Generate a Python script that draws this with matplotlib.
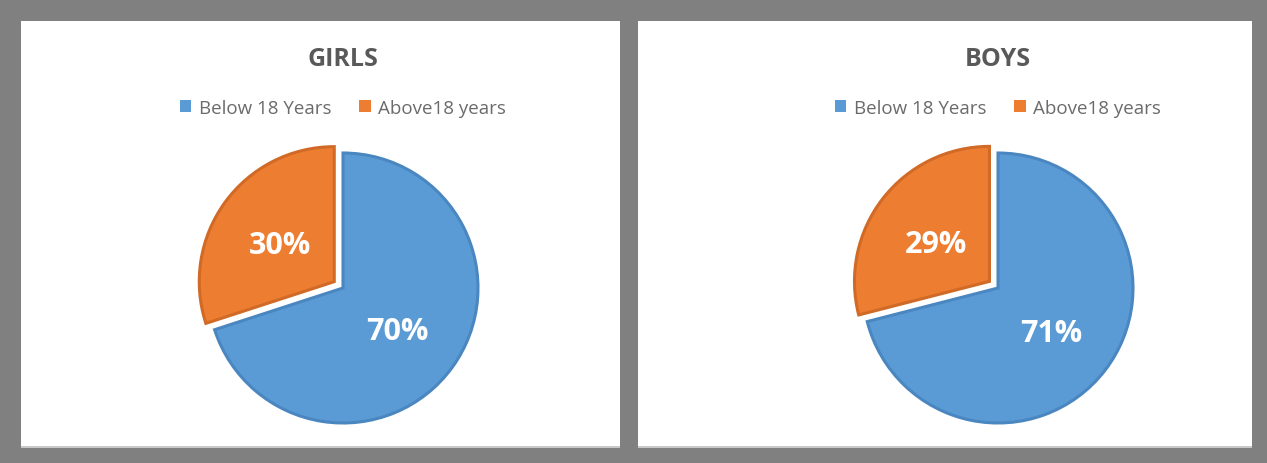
import matplotlib
matplotlib.use('Agg')  # без дисплея
import matplotlib.pyplot as plt
from matplotlib.patches import Rectangle, Patch

# Данные
groups = ["GIRLS", "BOYS"]
categories = ["Below 18 Years", "Above18 years"]
girls_share = [70, 30]
boys_share = [71, 29]
shares = [girls_share, boys_share]

# Оформление
colors = ['#5B9BD5', '#ED7D31']
edge_colors = ['#4A86C0', '#D06A26']
text_color = '#595959'
font = 'Open Sans'

W, H = 1267, 464
fig = plt.figure(figsize=(W / 100, H / 100), dpi=100, facecolor='#808080')

panels = [(21, 620), (638, 1252)]   # левая/правая граница белых панелей (px)
centers = [343, 998]                # центр круга по x (px)
cy, R = 289, 135                    # центр по y и радиус (px)
top, bottom = 22, 447

for (x0, x1), cx, title, values in zip(panels, centers, groups, shares):
    # Белая панель
    fig.patches.append(Rectangle((x0 / W, 1 - bottom / H), (x1 - x0) / W, (bottom - top) / H,
                                 transform=fig.transFigure, facecolor='white',
                                 edgecolor='none', zorder=-1))
    fig.patches.append(Rectangle((x0 / W, 1 - (bottom + 2) / H), (x1 - x0) / W, 2 / H,
                                 transform=fig.transFigure, facecolor='#c8c8c8',
                                 edgecolor='none', zorder=-1))

    # Заголовок
    fig.text(cx / W, 1 - 59 / H, title, ha='center', va='center', fontsize=18,
             fontweight='bold', color=text_color, family=font)

    # Круговая диаграмма
    k = 1.25
    ax = fig.add_axes([(cx - k * R) / W, (H - cy - k * R) / H, 2 * k * R / W, 2 * k * R / H])
    wedges, texts, autotexts = ax.pie(values, colors=colors, startangle=90, counterclock=False,
                                      explode=[0, 0.08], autopct='%d%%', pctdistance=0.5,
                                      wedgeprops=dict(linewidth=2.2))
    for w, ec in zip(wedges, edge_colors):
        w.set_edgecolor(ec)
    for t in autotexts:
        t.set_color('white')
        t.set_fontsize(22)
        t.set_fontweight('bold')
        t.set_family(font)
        t.set_va('center_baseline')
    ax.set_xlim(-k, k)
    ax.set_ylim(-k, k)
    ax.set_aspect('equal')
    ax.axis('off')

    # Легенда
    handles = [Patch(facecolor=c, edgecolor='none') for c in colors]
    fig.legend(handles, categories, loc='center', bbox_to_anchor=(cx / W, 1 - 109 / H),
               ncol=2, frameon=False, labelcolor='#6b6b6b',
               prop={'family': font, 'size': 13.5},
               handlelength=0.6, handleheight=0.6, handletextpad=0.4, columnspacing=1.5)

plt.savefig("out.png", dpi=100, facecolor=fig.get_facecolor())
plt.close()
